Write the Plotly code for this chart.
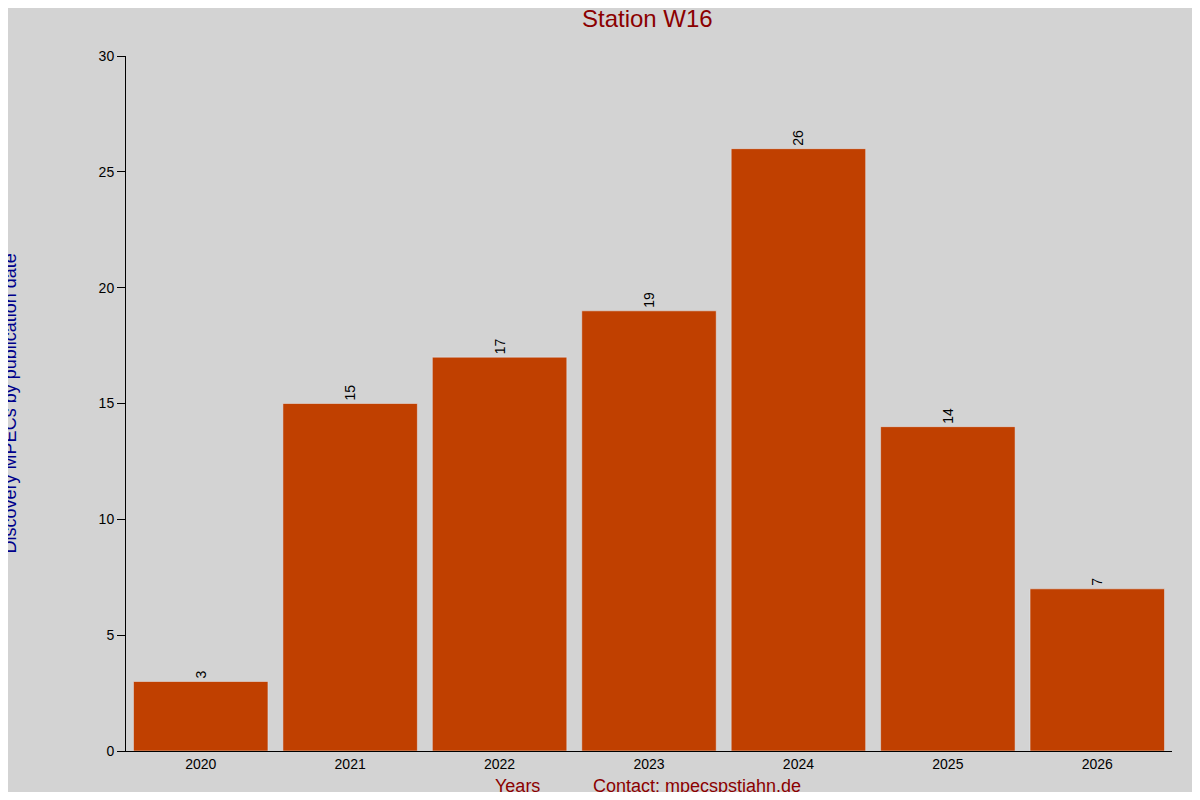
import plotly.graph_objects as go

years = ["2020", "2021", "2022", "2023", "2024", "2025", "2026"]
counts = [3, 15, 17, 19, 26, 14, 7]

fig = go.Figure(go.Bar(
    x=years, y=counts, marker_color="#c04000", width=0.9,
    text=[str(c) for c in counts], textposition="outside", textangle=-90,
    textfont=dict(color="black", size=14), cliponaxis=False,
))

fig.update_layout(
    width=1184, height=784,
    paper_bgcolor="#d3d3d3", plot_bgcolor="#d3d3d3",
    font=dict(family="Liberation Sans, Arial", size=14, color="black"),
    margin=dict(l=118, r=20, t=48, b=41),
    title=dict(text="Station W16", x=0.54, xanchor="center", y=0.987, yanchor="middle",
               font=dict(size=24, color="#8b0000")),
    showlegend=False, bargap=0.1,
)
fig.update_xaxes(showline=True, linecolor="black", ticks="", showgrid=False,
                 range=[-0.5, 6.5])
fig.update_yaxes(showline=True, linecolor="black", ticks="outside", ticklen=8,
                 tickcolor="black", showgrid=False, zeroline=False, range=[0, 30],
                 dtick=5)
fig.add_annotation(text="Discovery MPECs by publication date", xref="paper", yref="paper",
                   x=-0.111, xanchor="center", y=0.5, textangle=-90, showarrow=False,
                   font=dict(size=18, color="#00008b"))
fig.add_annotation(text="Years", xref="paper", yref="paper", x=0.374, y=-0.05,
                   yanchor="middle", showarrow=False, font=dict(size=18, color="#8b0000"))
fig.add_annotation(text="Contact: mpecspstjahn.de", xref="paper", yref="paper", x=0.546,
                   y=-0.05, yanchor="middle", showarrow=False,
                   font=dict(size=18, color="#8b0000"))

fig.write_html("out.html")
